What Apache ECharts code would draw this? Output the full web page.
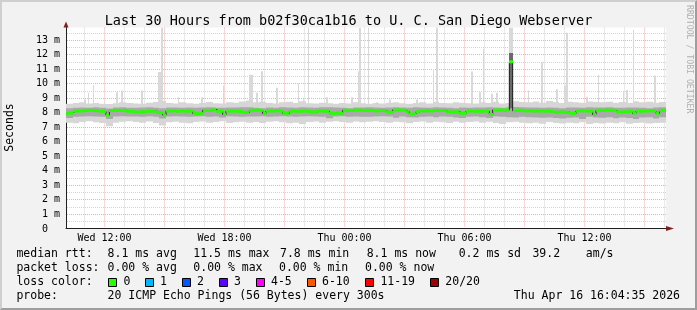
<!DOCTYPE html>
<html><head><meta charset="utf-8">
<script src="https://cdn.jsdelivr.net/npm/echarts@6/dist/echarts.min.js"></script>
<style>
html,body{margin:0;padding:0;background:#f2f2f2;overflow:hidden}
#c{position:absolute;left:0;top:0;width:697px;height:310px}
#frame{position:absolute;left:0;top:0;width:697px;height:310px;box-sizing:border-box;border-style:solid;border-width:2px;border-color:#cfcfcf #9e9e9e #9e9e9e #cfcfcf;pointer-events:none}
</style></head><body>
<div id="c"></div><div id="frame"></div>
<script>
// ---- time frame (hours since Wed 00:00) ----
const startHour = 10 + 4/60 + 35/3600;   // Wed 10:04:35
const spanHours = 30;
const endHour = startHour + spanHours;    // Thu 16:04:35
const dayNames = ['Wed', 'Thu'];
// hourly grid lines (hours since Wed 00:00)
const gridHours = [11,12,13,14,15,16,17,18,19,20,21,22,23,24,25,26,27,28,29,30,31,32,33,34,35,36,37,38,39,40];
const majorEveryHours = 3;
const labelEveryHours = 6;
// horizontal grid lines (ms)
const gridMs = [0.5,1,1.5,2,2.5,3,3.5,4,4.5,5,5.5,6,6.5,7,7.5,8,8.5,9,9.5,10,10.5,11,11.5,12,12.5,13,13.5];
const yLabels = [0,1,2,3,4,5,6,7,8,9,10,11,12,13];

// ---- median RTT (ms), one value per 10 minutes ----
const medianStepMin = 10;
const median = [
 7.95,7.97,8.09,8.10,8.10,8.12,8.15,8.16,8.13,8.12,
 8.09,8.07,7.82,8.13,8.16,8.15,8.14,8.16,8.09,8.08,
 8.05,8.04,8.06,8.05,8.09,8.08,8.10,8.01,7.99,7.82,
 8.11,8.10,8.12,8.09,8.10,8.11,8.09,8.10,7.94,7.92,
 7.95,8.15,8.14,8.16,8.22,8.09,8.08,7.86,8.10,8.09,
 8.11,8.08,8.07,8.00,8.01,8.16,8.15,8.17,8.15,7.93,
 8.10,8.11,8.10,8.12,8.09,7.95,7.94,8.09,8.10,8.08,
 8.09,8.11,8.08,8.05,8.04,8.09,8.10,8.08,8.09,7.95,
 7.93,7.96,7.94,8.15,8.16,8.14,8.16,8.17,8.15,8.16,
 8.16,8.15,8.12,8.11,8.13,8.12,8.03,8.02,8.18,8.17,
 8.18,8.16,8.05,7.89,7.90,8.05,8.12,8.11,8.12,8.10,
 8.14,8.13,8.14,8.13,8.05,8.04,8.06,8.05,7.95,7.93,
 8.09,8.10,8.09,8.08,8.09,8.10,8.08,7.86,8.18,8.17,
 8.18,8.16,8.17,11.5,8.12,8.16,8.15,8.11,8.10,8.12,
 8.09,8.10,8.11,8.09,8.10,8.08,8.03,8.02,8.04,8.03,
 8.02,7.95,7.93,8.11,8.12,8.10,8.11,8.09,7.86,8.15,
 8.16,8.15,8.17,8.16,8.15,8.05,8.04,8.06,8.05,8.09,
 7.94,8.10,8.09,8.11,8.10,8.12,8.10,7.94,8.15,8.16
];

// ---- smoke (ms), one value per 20 minutes ----
const smokeStepMin = 20;
const smokeHi = [
 8.60,8.65,8.70,8.62,8.66,8.60,8.58,8.64,8.70,8.66,
 8.62,8.60,8.68,8.72,8.80,8.66,8.62,8.70,8.64,8.60,
 8.66,8.72,8.64,8.62,8.70,8.68,8.76,8.82,8.70,8.74,
 8.66,8.62,8.70,8.74,8.66,8.78,8.64,8.62,8.68,8.64,
 8.60,8.66,8.62,8.70,8.64,8.60,8.66,8.62,8.68,8.70,
 8.64,8.60,8.66,8.70,8.62,8.74,8.66,8.64,8.70,8.68,
 8.64,8.62,8.70,8.66,8.74,8.62,8.66,8.78,8.72,8.70,
 8.76,8.68,8.80,8.72,8.66,8.74,8.70,8.68,8.76,8.72,
 8.70,8.74,8.68,8.72,8.66,8.78,8.70,8.74,8.68,8.72
];
const coreHi = [
 8.30,8.32,8.34,8.33,8.36,8.32,8.28,8.34,8.36,8.33,
 8.32,8.34,8.36,8.33,8.30,8.35,8.34,8.33,8.35,8.32,
 8.34,8.36,8.33,8.32,8.35,8.34,8.37,8.36,8.32,8.30,
 8.34,8.33,8.36,8.34,8.32,8.36,8.35,8.33,8.37,8.36,
 8.34,8.33,8.30,8.34,8.35,8.36,8.34,8.33,8.35,8.36,
 8.34,8.32,8.36,8.35,8.33,8.36,8.34,8.32,8.30,8.34,
 8.33,8.35,8.34,8.36,8.34,8.32,8.36,8.38,8.36,8.34,
 8.35,8.33,8.34,8.32,8.30,8.34,8.35,8.33,8.36,8.34,
 8.35,8.36,8.33,8.32,8.35,8.34,8.33,8.30,8.34,8.36
];
const coreLo = [
 7.62,7.70,7.72,7.74,7.72,7.70,7.56,7.72,7.74,7.73,
 7.72,7.70,7.74,7.71,7.58,7.72,7.74,7.72,7.70,7.72,
 7.74,7.70,7.72,7.66,7.74,7.72,7.70,7.73,7.72,7.74,
 7.70,7.72,7.74,7.72,7.70,7.73,7.74,7.72,7.70,7.60,
 7.72,7.74,7.70,7.72,7.71,7.70,7.72,7.74,7.72,7.64,
 7.72,7.68,7.66,7.70,7.72,7.68,7.72,7.70,7.66,7.62,
 7.70,7.72,7.68,7.62,7.72,7.70,7.68,7.66,7.70,7.68,
 7.66,7.64,7.66,7.62,7.58,7.64,7.66,7.56,7.70,7.66,
 7.64,7.68,7.60,7.66,7.62,7.56,7.66,7.68,7.58,7.68
];
const smokeLo = [
 7.30,7.25,7.35,7.40,7.32,7.28,7.05,7.30,7.36,7.40,
 7.34,7.30,7.38,7.28,7.10,7.32,7.36,7.30,7.26,7.34,
 7.38,7.30,7.34,7.40,7.28,7.32,7.36,7.30,7.34,7.28,
 7.36,7.40,7.32,7.26,7.30,7.20,7.34,7.38,7.30,7.36,
 7.40,7.34,7.30,7.38,7.32,7.36,7.40,7.34,7.30,7.36,
 7.32,7.26,7.34,7.38,7.30,7.36,7.32,7.28,7.36,7.30,
 7.34,7.38,7.30,7.36,7.28,7.20,7.32,7.36,7.30,7.26,
 7.30,7.22,7.34,7.28,7.24,7.30,7.26,7.32,7.20,7.28,
 7.24,7.30,7.26,7.32,7.22,7.28,7.30,7.24,7.28,7.30
];

// ---- single-sample outliers: [5-minute index, bottom ms, top ms] ----
const spikeStepMin = 5;
const spikes = [
 [11,8.5,8.9],[13,8.5,9.36],[16,8.5,9.9],[30,8.5,9.4],[33,8.5,9.52],[45,8.5,9.52],
 [55,8.5,10.8],[56,8.5,10.8],[57,8.5,13.87],[67,8.5,9.06],[81,8.5,9.06],[94,8.5,9.86],
 [110,8.5,10.6],[111,8.5,10.6],[114,8.5,9.36],[117,8.5,10.85],[126,8.5,9.7],[139,8.5,10.0],
 [142,8.5,8.9],[145,8.5,13.87],[156,8.5,9.06],[171,8.5,9.06],[175,8.5,10.85],[176,8.5,13.87],
 [181,8.5,13.87],[186,8.5,8.7],[194,8.5,8.9],[210,8.5,8.9],[220,8.5,11.0],[222,8.5,13.87],
 [243,8.5,10.83],[248,8.5,9.4],[250,8.5,12.4],[255,8.5,9.3],[258,8.5,9.36],[266,8.5,13.87],
 [267,8.5,13.87],[277,8.5,9.52],[285,8.5,11.5],[294,8.5,9.6],[299,8.5,9.87],[300,8.5,13.5],
 [312,8.5,9.08],[319,8.5,10.6],[334,8.5,9.4],[336,8.5,9.55],[340,8.5,13.7],[353,8.5,10.56]
];
const darkSpikes = [[266,8.3,12.1],[267,8.3,12.1]];

// ---- y axis ----
const yMax = 13.862;

// ---- legend texts ----
const titleText = 'Last 30 Hours from b02f30ca1b16 to U. C. San Diego Webserver';
const medianRttLabel = 'median rtt:';
const medianRttStats = ['8.1 ms avg','11.5 ms max','7.8 ms min','8.1 ms now','0.2 ms sd','39.2','am/s'];
const packetLossLabel = 'packet loss:';
const packetLossStats = ['0.00 % avg','0.00 % max','0.00 % min','0.00 % now'];
const lossColorLabel = 'loss color:';
const lossNames = ['0','1','2','3','4-5','6-10','11-19','20/20'];
const lossColors = ['#26ff00','#00b8ff','#0059ff','#5e00ff','#ff00ff','#ff5500','#ff0000','#a00000'];
const probeLabel = 'probe:';
const probeText = '20 ICMP Echo Pings (56 Bytes) every 300s';
const dateText = 'Thu Apr 16 16:04:35 2026';
const yAxisName = 'Seconds';
const creditText = 'RRDTOOL / TOBI OETIKER';

// ---- layout (styling only) ----
const MONO = '"DejaVu Sans Mono", monospace';
const statX = [107.6,193.3,280,366.7,458.7,532.4,585.8];
const lossStatX = [107.6,193.3,279,365];
const swatchX = [108,145,182,219,256,307,365,430];
const swatchTextX = [123.6,160,197,234,271,322,380.4,445.3];
const rowY = [254.3,268.3,282.3,296];
const GRID_GRAY = '#d4d4d4', GRID_RED = '#f1b0b0';

const hourAt = (idx, stepMin) => startHour + idx * stepMin / 60;

const smokeData = smokeHi.map((h, j) => [hourAt(j, smokeStepMin), smokeLo[j], coreLo[j], coreHi[j], h]);
const medianData = median.map((v, i) => [hourAt(i, medianStepMin), v]);
const medianLine = medianData.concat([[endHour, median[median.length - 1]]]);
const spikeData = spikes.map(s => [hourAt(s[0], spikeStepMin), s[1], s[2]]);
const darkSpikeData = darkSpikes.map(s => [hourAt(s[0], spikeStepMin), s[1], s[2]]);
const gridData = gridHours.map(h => [h, 0]);
const hGridData = gridMs.map(v => [startHour, v]);
const yLabelData = yLabels.map(v => [startHour, v]);

function colRect(api, t0, stepMin, lo, hi) {
  const x0 = Math.round(api.coord([t0, 0])[0]);
  const x1 = Math.round(api.coord([t0 + stepMin / 60, 0])[0]);
  const yHi = api.coord([t0, hi])[1];
  const yLo = api.coord([t0, lo])[1];
  return { x: x0, y: yHi, width: Math.max(1, x1 - x0), height: yLo - yHi };
}
function spikeRender(stepMin, fill) {
  return function (params, api) {
    return { type: 'rect', shape: colRect(api, api.value(0), stepMin, api.value(1), api.value(2)), style: { fill: fill } };
  };
}
function hourLabel(h) {
  const day = dayNames[Math.floor(h / 24)];
  const hh = h % 24;
  return day + ' ' + (hh < 10 ? '0' : '') + hh + ':00';
}

const graphics = [];
function txt(x, y, s, opts) {
  graphics.push({ type: 'text', x: x, y: y, silent: true,
    style: Object.assign({ text: s, font: '11.5px ' + MONO, fill: '#000', verticalAlign: 'middle', align: 'left' }, opts || {}) });
}
txt(16.4, rowY[0], medianRttLabel);
medianRttStats.forEach((s, k) => txt(statX[k], rowY[0], s));
txt(16.4, rowY[1], packetLossLabel);
packetLossStats.forEach((s, k) => txt(lossStatX[k], rowY[1], s));
txt(16.4, rowY[2], lossColorLabel);
lossNames.forEach((s, k) => {
  graphics.push({ type: 'rect', silent: true, shape: { x: swatchX[k] + 0.5, y: rowY[2] - 3.8, width: 8, height: 8 },
    style: { fill: lossColors[k], stroke: '#000', lineWidth: 1 } });
  txt(swatchTextX[k], rowY[2], s);
});
txt(16.4, rowY[3], probeLabel);
txt(107.6, rowY[3], probeText);
txt(680, rowY[3], dateText, { align: 'right' });
graphics.push({ type: 'text', x: 10, y: 127.5, rotation: Math.PI / 2, silent: true,
  style: { text: yAxisName, font: '11.5px ' + MONO, fill: '#000', align: 'center', verticalAlign: 'middle' } });
graphics.push({ type: 'text', x: 689, y: 5, rotation: -Math.PI / 2, silent: true,
  style: { text: creditText, font: '8.2px ' + MONO, fill: '#b0b0b0', align: 'left', verticalAlign: 'middle' } });

const chart = echarts.init(document.getElementById('c'), null, { renderer: 'canvas' });
chart.setOption({
  animation: false,
  backgroundColor: 'transparent',
  title: { text: titleText, left: 'center', top: 9,
    textStyle: { fontFamily: MONO, fontSize: 13.5, fontWeight: 'normal', color: '#000', lineHeight: 15 } },
  grid: { left: 66, right: 31, top: 27.5, bottom: 81.5, containLabel: false, outerBoundsMode: 'none',
    show: true, backgroundColor: '#ffffff', borderWidth: 0 },
  xAxis: [{
    type: 'value', min: startHour, max: endHour,
    axisLine: { show: true, onZero: false, lineStyle: { color: '#1f1f1f', width: 1 } },
    axisTick: { show: false }, axisLabel: { show: false }, splitLine: { show: false }
  }, {
    type: 'value', min: startHour, max: endHour, position: 'bottom',
    axisLine: { show: true, onZero: false, symbol: ['none', 'triangle'], symbolSize: [5, 8], symbolOffset: [0, 4],
      lineStyle: { color: '#7f1f1f', opacity: 0 } },
    axisTick: { show: false }, axisLabel: { show: false }, splitLine: { show: false }
  }],
  yAxis: [{
    type: 'value', min: 0, max: yMax,
    axisLine: { show: true, onZero: false, lineStyle: { color: '#1f1f1f', width: 1 } },
    axisTick: { show: false }, axisLabel: { show: false }, splitLine: { show: false }
  }, {
    type: 'value', min: 0, max: yMax, position: 'left',
    axisLine: { show: true, onZero: false, symbol: ['none', 'triangle'], symbolSize: [5, 6], symbolOffset: [0, 3],
      lineStyle: { color: '#7f1f1f', opacity: 0 } },
    axisTick: { show: false }, axisLabel: { show: false }, splitLine: { show: false }
  }],
  graphic: graphics,
  series: [
    { type: 'custom', name: 'hGrid', z: 0, clip: false, silent: true, data: hGridData,
      renderItem: function (params, api) {
        const v = api.value(1);
        const left = api.coord([startHour, v]);
        const right = api.coord([endHour, v]);
        const y = Math.round(left[1]) + 0.5;
        const major = Math.abs(v - Math.round(v)) < 1e-6;
        return { type: 'line', shape: { x1: left[0] + 1, y1: y, x2: right[0], y2: y },
          style: { stroke: major ? GRID_RED : GRID_GRAY, lineWidth: 1, lineDash: [1, 1] } };
      } },
    { type: 'custom', name: 'yLabels', z: 0, clip: false, silent: true, data: yLabelData,
      renderItem: function (params, api) {
        const v = api.value(1);
        const p = api.coord([startHour, v]);
        return { type: 'text', x: p[0] - 6, y: Math.round(p[1]) + 0.5,
          style: { text: v === 0 ? '0  ' : v + ' m', font: '10px ' + MONO, fill: '#000', align: 'right', verticalAlign: 'middle' } };
      } },
    { type: 'custom', name: 'hourGrid', z: 0, clip: false, silent: true, data: gridData,
      renderItem: function (params, api) {
        const h = api.value(0);
        const x = Math.round(api.coord([h, 0])[0]) + 0.5;
        const yBot = api.coord([h, 0])[1];
        const yTop = api.coord([h, yMax])[1];
        const children = [{ type: 'line', shape: { x1: x, y1: yTop, x2: x, y2: yBot - 1 },
          style: { stroke: (h % majorEveryHours === 0) ? GRID_RED : GRID_GRAY, lineWidth: 1, lineDash: [1, 1] } }];
        if (h % labelEveryHours === 0) {
          children.push({ type: 'text', x: x, y: yBot + 4.5,
            style: { text: hourLabel(h), font: '10px ' + MONO, fill: '#000', align: 'center', verticalAlign: 'top' } });
        }
        return { type: 'group', children: children };
      } },
    { type: 'custom', name: 'spikes', z: 1, clip: true, data: spikeData, renderItem: spikeRender(spikeStepMin, '#d9d9d9') },
    { type: 'custom', name: 'smoke', z: 2, clip: true, data: smokeData,
      renderItem: function (params, api) {
        const t0 = api.value(0);
        return { type: 'group', children: [
          { type: 'rect', shape: colRect(api, t0, smokeStepMin, api.value(1), api.value(4)), style: { fill: '#d6d6d6' } },
          { type: 'rect', shape: colRect(api, t0, smokeStepMin, api.value(2), api.value(3)), style: { fill: '#a9a9a9' } }
        ] };
      } },
    { type: 'custom', name: 'darkSpikes', z: 3, clip: true, data: darkSpikeData, renderItem: spikeRender(spikeStepMin, '#6a6a6a') },
    { type: 'line', name: 'median', z: 4, step: 'end', data: medianLine, showSymbol: false, symbol: 'none',
      lineStyle: { color: '#202020', width: 1 }, emphasis: { disabled: true } },
    { type: 'custom', name: 'loss0', z: 5, clip: true, data: medianData,
      renderItem: function (params, api) {
        const t0 = api.value(0);
        const x0 = Math.round(api.coord([t0, 0])[0]);
        const x1 = Math.round(api.coord([t0 + medianStepMin / 60, 0])[0]);
        const y = api.coord([t0, api.value(1)])[1];
        return { type: 'rect', shape: { x: x0, y: y - 1.5, width: x1 - x0, height: 3 }, style: { fill: lossColors[0] } };
      } }
  ]
});
</script></body></html>
